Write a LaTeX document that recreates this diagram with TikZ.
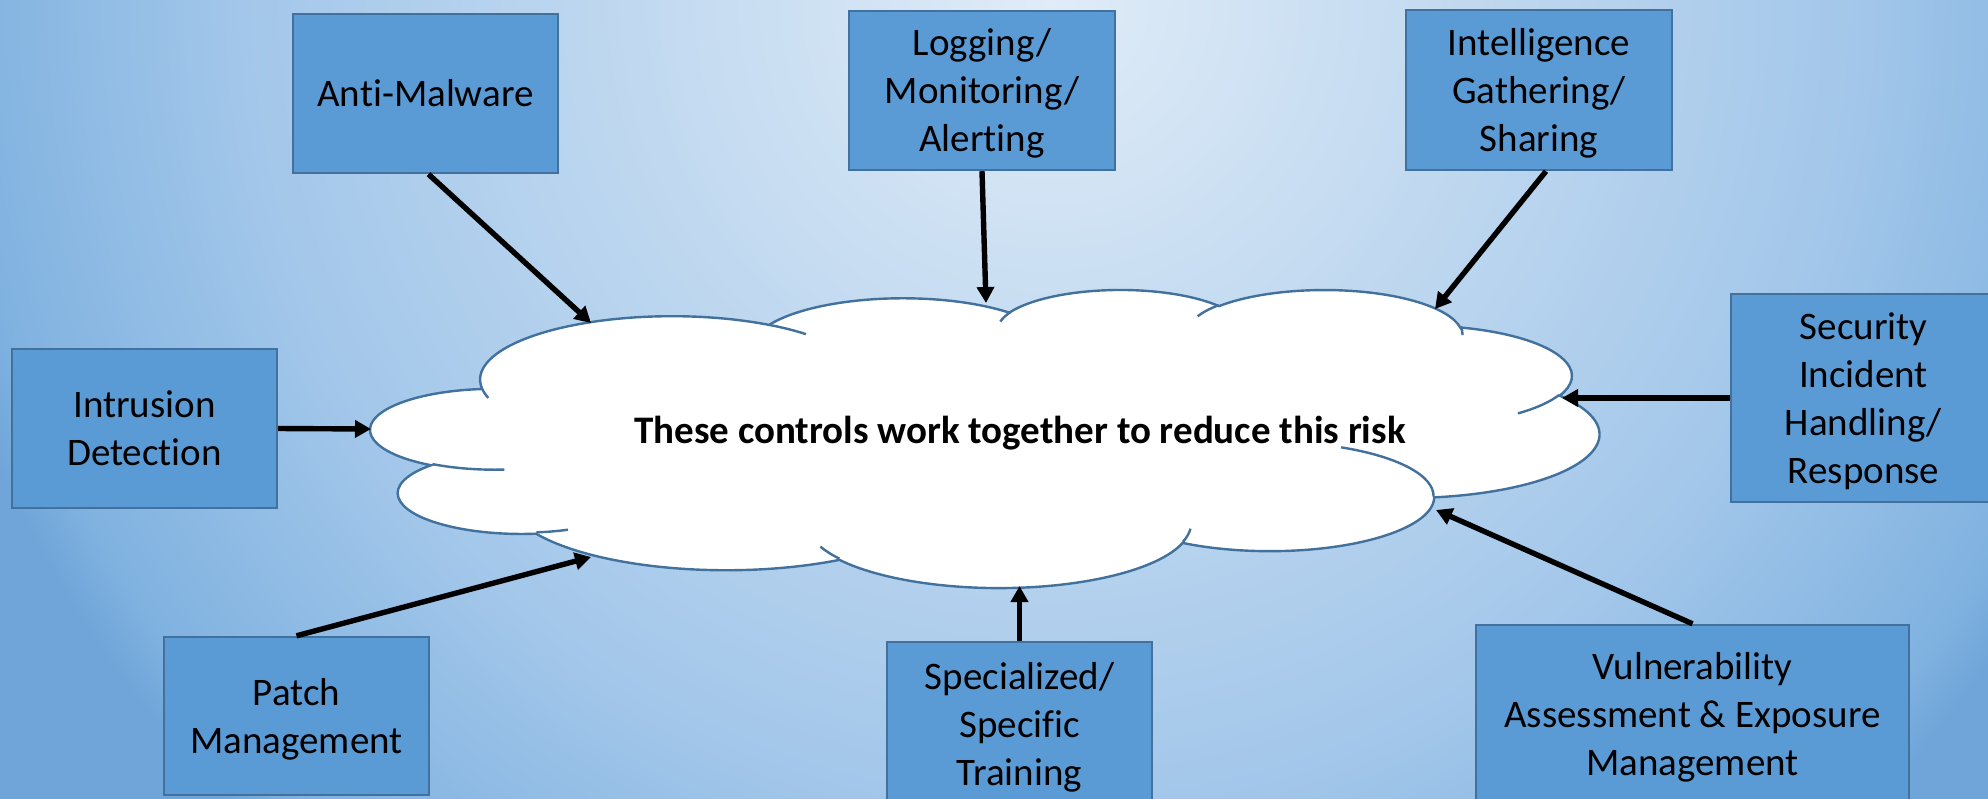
\documentclass[tikz,border=0pt]{standalone}
\usepackage{fontspec}
\setmainfont{Carlito}[Ligatures={NoCommon}]
\usepackage{xfp}
\usetikzlibrary{arrows.meta}

\definecolor{boxfill}{HTML}{5B9BD5}
\definecolor{boxline}{HTML}{41719C}
\definecolor{cloudblue}{HTML}{41719C}
\definecolor{bgA}{HTML}{E0ECF8}
\definecolor{bgB}{HTML}{C6DCF1}
\definecolor{bgC}{HTML}{A3C7EA}
\definecolor{bgD}{HTML}{80B2E0}
\definecolor{bgE}{HTML}{6FA5D9}

% the path's outline sits at 25bp
\pgfdeclareradialshading{bgglow}{\pgfpoint{0bp}{0bp}}{%
  color(0bp)=(bgA); color(7.5bp)=(bgB); color(17.5bp)=(bgC); color(23.75bp)=(bgD);
  color(25bp)=(bgE); color(50bp)=(bgE)}

% Cloud outline: arcs in a 43200 x 43200 frame, mapped onto the
% rectangle (\cldX,\cldY)+(\cldW,\cldH) given in px; 1 px = \cldu pt.
\def\cldX{371}\def\cldY{289}\def\cldW{1228}\def\cldH{298}\def\cldu{0.5}
\gdef\cldpath{}
\newcommand\cldmove[2]{%
  \xdef\cldpath{\cldpath\space(\fpeval{round(\cldX+(#1)*\cldW/43200,3)},\fpeval{round(\cldY+(#2)*\cldH/43200,3)})}}
\newcommand\cldarc[4]{% wR, hR, start angle, sweep (angles in 1/60000 deg)
  \edef\cldas{\fpeval{(#3)/60000}}%
  \edef\cldae{\fpeval{((#3)+(#4))/60000}}%
  \edef\cldts{\fpeval{atand((#1)*sind(\cldas),(#2)*cosd(\cldas))}}%
  \edef\cldte{\fpeval{atand((#1)*sind(\cldae),(#2)*cosd(\cldae))}}%
  \edef\cldte{\fpeval{(\cldte)+360*round(((\cldts)+(#4)/60000-(\cldte))/360)}}%
  \xdef\cldpath{\cldpath\space arc[start angle=\fpeval{round(-(\cldts),4)},end angle=\fpeval{round(-(\cldte),4)},x radius=\fpeval{round((#1)*\cldW/43200*\cldu,4)}pt,y radius=\fpeval{round((#2)*\cldH/43200*\cldu,4)}pt]}}

% outer outline
\cldmove{3900}{14370}
\cldarc{6753}{9190}{-11429249}{7426832}
\cldarc{5333}{7267}{-8646143}{5396714}
\cldarc{4365}{5945}{-8748475}{5983381}
\cldarc{4857}{6595}{-7859164}{7034504}
\cldarc{5333}{7273}{-4722533}{6541615}
\cldarc{6775}{9220}{-2776035}{7816140}
\cldarc{5785}{7867}{37501}{6842000}
\cldarc{6752}{9215}{1347096}{6910353}
\cldarc{7720}{10543}{3974558}{4542661}
\cldarc{4360}{5918}{-16496525}{8804134}
\cldarc{4345}{5945}{-14809710}{9151131}
\global\let\cldmain\cldpath
\gdef\cldpath{}
% small inner strokes
\cldmove{4693}{26177}\cldarc{4345}{5945}{5204520}{1585770}
\cldmove{6928}{34899}\cldarc{4360}{5918}{4416628}{686848}
\cldmove{16478}{39090}\cldarc{6752}{9215}{8257449}{844866}
\cldmove{28827}{34751}\cldarc{6752}{9215}{387196}{959901}
\cldmove{34129}{22954}\cldarc{5785}{7867}{-4217541}{4255042}
\cldmove{41798}{15354}\cldarc{5333}{7273}{1819082}{1665090}
\cldmove{38324}{5426}\cldarc{4857}{6595}{-824660}{891534}
\cldmove{29078}{3952}\cldarc{4857}{6595}{-8950887}{1091722}
\cldmove{22141}{4720}\cldarc{4365}{5945}{-9809656}{1061181}
\cldmove{14000}{5192}\cldarc{6753}{9190}{-4002417}{739161}
\cldmove{4127}{15789}\cldarc{6753}{9190}{9459261}{711490}
\global\let\cldinner\cldpath

% fixed line ascent / descent for the box labels
\newcommand\lnup{\rule{0pt}{17pt}}
\newcommand\lndn{\rule[-4pt]{0pt}{0pt}}

\tikzset{
  ctrl/.style={draw=boxline, line width=1.2pt, fill=boxfill, align=center,
    inner sep=0pt, text=black},
  feed/.style={line width=2.7pt, -{Triangle[length=8pt,width=8.5pt]}},
  cloudedge/.style={draw=cloudblue, line width=1.2pt},
}

\begin{document}
\begin{tikzpicture}[x=0.5pt, y=-0.5pt, font=\fontsize{19.5}{24}\selectfont]
\useasboundingbox (0,0) rectangle (1988,798.8);
\clip (0,0) rectangle (1988,798.8);

% background
\fill[bgE] (-5,-5) rectangle (1993,805);
\shade[shading=bgglow] (1050,0) ellipse [x radius=575pt, y radius=575pt];

% cloud
\edef\cldcmd{\noexpand\filldraw[cloudedge, fill=white]\cldmain\space-- cycle;}\cldcmd
\edef\cldcmd{\noexpand\draw[cloudedge]\cldinner;}\cldcmd
\node[anchor=base, font=\fontsize{19.5}{24}\selectfont\bfseries] (risk) at (1020,443)
  {These controls work together to reduce this risk};

% controls
\node[ctrl, minimum width=132.5pt, minimum height=79.5pt] (am) at (425.5,93.5)
  {\lnup Anti-Malware\lndn};
\node[ctrl, minimum width=133pt, minimum height=79.5pt] (lg) at (982,90.5)
  {\lnup Logging/\\Monitoring/\\Alerting\lndn};
\node[ctrl, minimum width=133pt, minimum height=80pt] (ig) at (1539,90)
  {\lnup Intelligence\\Gathering/\\Sharing\lndn};
\node[ctrl, minimum width=132.5pt, minimum height=79.5pt] (id) at (144.5,428.5)
  {\lnup Intrusion\\Detection\lndn};
\node[ctrl, minimum width=132.5pt, minimum height=104pt] (sc) at (1863.5,398)
  {\lnup Security\\Incident\\Handling/\\Response\lndn};
\node[ctrl, minimum width=132.5pt, minimum height=79pt] (pm) at (296.5,716)
  {\lnup Patch\\Management\lndn};
\node[ctrl, minimum width=132.5pt, minimum height=82.5pt] (st) at (1019.5,724.5)
  {\lnup Specialized/\\Specific\\Training\lndn};
\node[ctrl, minimum width=216.5pt, minimum height=89.5pt] (va) at (1692.5,714.5)
  {\lnup Vulnerability\\Assessment \& Exposure\\Management\lndn};

% arrow ends on the cloud
\coordinate (tAM) at (591,323);
\coordinate (tLG) at (986,303);
\coordinate (tIG) at (1435,309);
\coordinate (tID) at (371,429);
\coordinate (tSC) at (1562,398);
\coordinate (tPM) at (591,557);
\coordinate (tST) at (1019.5,586);
\coordinate (tVA) at (1436,510);

\draw[feed] ([xshift=1.5pt]am.south) -- (tAM);
\draw[feed] (lg.south) -- (tLG);
\draw[feed] ([xshift=3.5pt]ig.south) -- (tIG);
\draw[feed] (id.east) -- (tID);
\draw[feed] (sc.west) -- (tSC);
\draw[feed] (pm.north) -- (tPM);
\draw[feed] (st.north) -- (tST);
\draw[feed] (va.north) -- (tVA);
\end{tikzpicture}
\end{document}
